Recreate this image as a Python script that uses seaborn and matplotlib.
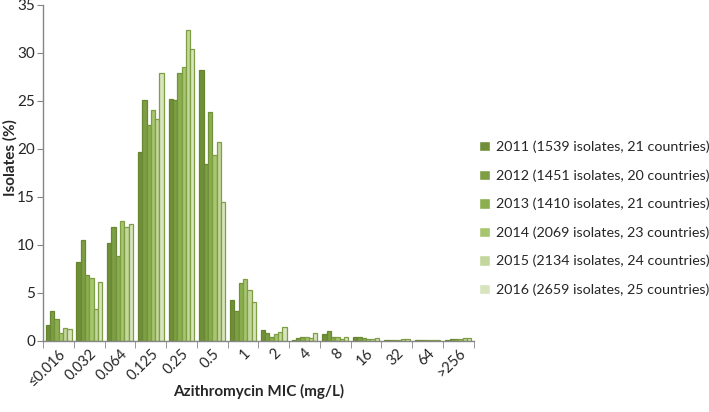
import pandas as pd
import matplotlib.pyplot as plt
import seaborn as sns

mic = ["≤0.016", "0.032", "0.064", "0.125", "0.25", "0.5", "1", "2", "4", "8", "16", "32", "64", ">256"]

y2011 = [1.63, 8.23, 10.17, 19.72, 25.21, 28.23, 4.2, 1.11, 0.05, 0.7, 0.35, 0.05, 0.03, 0.07]
y2012 = [3.09, 10.49, 11.88, 25.07, 25.07, 18.4, 3.13, 0.76, 0.3, 0.97, 0.35, 0.05, 0.05, 0.14]
y2013 = [2.22, 6.84, 8.82, 22.53, 27.92, 23.82, 6.0, 0.42, 0.35, 0.42, 0.28, 0.05, 0.05, 0.2]
y2014 = [0.76, 6.49, 12.43, 24.03, 28.54, 19.41, 6.39, 0.66, 0.4, 0.42, 0.2, 0.1, 0.05, 0.14]
y2015 = [1.28, 3.26, 11.88, 23.16, 32.43, 20.69, 5.24, 0.9, 0.25, 0.14, 0.14, 0.15, 0.1, 0.25]
y2016 = [1.22, 6.08, 12.19, 27.92, 30.42, 14.51, 3.99, 1.46, 0.8, 0.42, 0.24, 0.15, 0.05, 0.28]

labels = ["2011 (1539 isolates, 21 countries)",
          "2012 (1451 isolates, 20 countries)",
          "2013 (1410 isolates, 21 countries)",
          "2014 (2069 isolates, 23 countries)",
          "2015 (2134 isolates, 24 countries)",
          "2016 (2659 isolates, 25 countries)"]
faces = ["#6f8f38", "#7d9e42", "#8bae4f", "#a7c46e", "#c3d69b", "#d7e4bd"]
edges = ["#67852f", "#6a8735", "#71913a", "#7d9e42", "#7d9e42", "#7d9e42"]

series = [y2011, y2012, y2013, y2014, y2015, y2016]
rows = []
for lab, vals in zip(labels, series):
    for m, v in zip(mic, vals):
        rows.append({"MIC": m, "pct": v, "year": lab})
df = pd.DataFrame(rows)

sns.set_style("white")
plt.rcParams['font.family'] = ['Lato', 'DejaVu Sans']

fig = plt.figure(figsize=(7.09, 4.12), dpi=100)
ax = fig.add_axes([0.061, 0.173, 0.607, 0.815])

sns.barplot(data=df, x="MIC", y="pct", hue="year", order=mic, hue_order=labels,
            palette=faces, width=0.84, saturation=1, ax=ax)
for cont, ec in zip(ax.containers, edges):
    for bar in cont:
        bar.set_edgecolor(ec)
        bar.set_linewidth(0.9)

ax.set_xlim(-0.5, len(mic) - 0.5)
ax.set_ylim(0, 35)
ax.set_yticks(range(0, 36, 5))
ax.set_xticks(range(len(mic)))
ax.set_xticklabels(mic, rotation=45, ha="right", rotation_mode="anchor", fontsize=10.5)
ax.set_xticks([i - 0.5 for i in range(len(mic) + 1)], minor=True)
ax.tick_params(axis="x", which="major", length=0, pad=4)
ax.tick_params(axis="x", which="minor", length=5, color="#868686", direction="out", bottom=True)
ax.tick_params(axis="y", length=4, color="#868686", direction="out", left=True, labelsize=11, pad=2)

for s in ["top", "right"]:
    ax.spines[s].set_visible(False)
for s in ["left", "bottom"]:
    ax.spines[s].set_color("#868686")
    ax.spines[s].set_linewidth(1)

ax.set_xlabel("Azithromycin MIC (mg/L)", fontweight="bold", fontsize=11, va="center")
ax.set_ylabel("Isolates (%)", fontweight="bold", fontsize=11, va="center")
ax.xaxis.set_label_coords(0.5, -0.152)
ax.yaxis.set_label_coords(-0.077, 0.545)

handles, hl = ax.get_legend_handles_labels()
ax.legend(handles, hl, loc="center left", bbox_to_anchor=(0.668, 0.47),
          bbox_transform=fig.transFigure, frameon=False, fontsize=10.3,
          labelspacing=1.12, handlelength=0.75, handleheight=0.75,
          handletextpad=0.4, borderaxespad=0)

fig.savefig("out.png", dpi=100)
